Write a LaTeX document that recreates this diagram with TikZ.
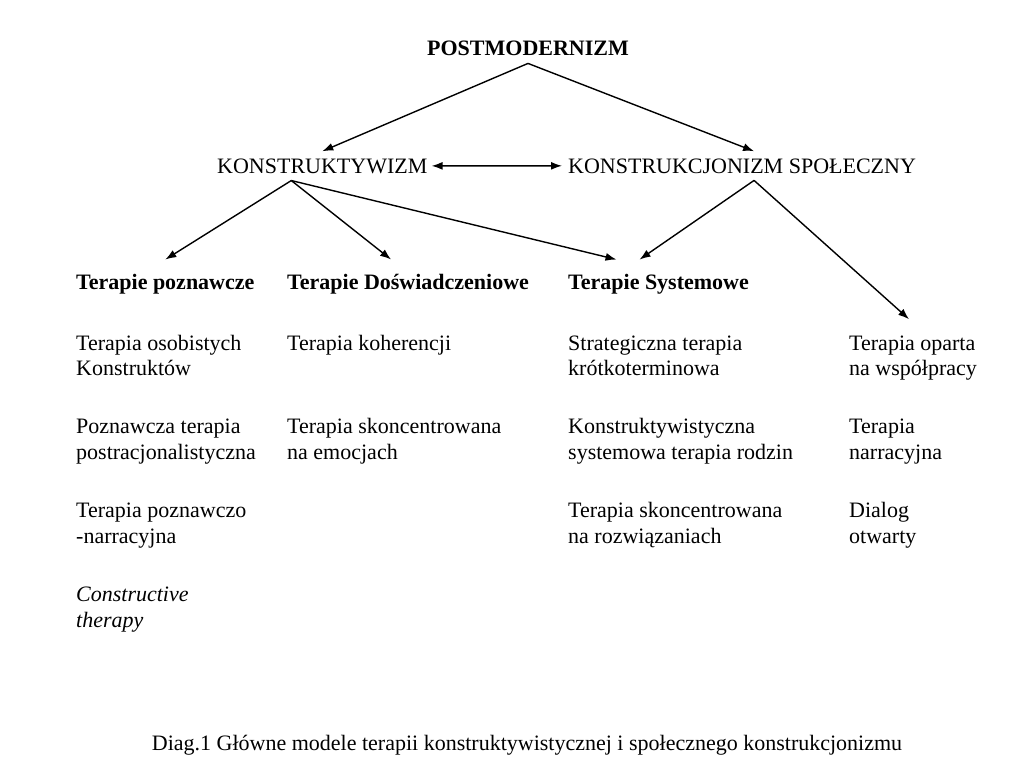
\documentclass[tikz,border=0pt]{standalone}
\usepackage{fontspec}
\setmainfont{Liberation Serif}
\usetikzlibrary{arrows.meta}

\begin{document}
\begin{tikzpicture}[x=1pt,y=-1pt,
    arr/.style={-{Latex[length=11pt,width=8pt]},line width=1.4pt},
    txt/.style={inner sep=0pt,font=\fontsize{22}{25.5}\selectfont},
    item/.style={txt,anchor=base west,align=left},
    head/.style={txt,anchor=base west,inner ysep=14pt,font=\fontsize{22}{25.5}\selectfont\bfseries}]
  \useasboundingbox (0,0) rectangle (1024,782);
  % top levels
  \node[txt,anchor=base,inner ysep=8pt,font=\fontsize{22}{25.5}\selectfont\bfseries] (pm) at (528,55) {POSTMODERNIZM};
  \node[txt,anchor=base west,inner xsep=4pt,inner ysep=7pt] (kt) at (213,173) {KONSTRUKTYWIZM};
  \node[txt,anchor=base west,inner xsep=6pt,inner ysep=7pt] (ks) at (562,173) {KONSTRUKCJONIZM SPOŁECZNY};
  \draw[arr] (pm.south) -- (kt.north);
  \draw[arr] (pm.south) -- ([xshift=12pt]ks.north);
  \draw[{Latex[length=11pt,width=8pt]}-{Latex[length=11pt,width=8pt]},line width=1.4pt] (kt.east) -- (ks.west);
  % groups
  \node[head] (tp) at (76,289) {Terapie poznawcze};
  \node[head] (td) at (287,289) {Terapie Doświadczeniowe};
  \node[head] (ts) at (568,289) {Terapie Systemowe};
  \draw[arr] ([xshift=-31pt]kt.south) -- (tp.north);
  \draw[arr] ([xshift=-31pt]kt.south) -- ([xshift=-17pt]td.north);
  \draw[arr] ([xshift=-31pt]kt.south) -- ([xshift=-42pt]ts.north);
  \draw[arr] ([xshift=12pt]ks.south) -- ([xshift=-19pt]ts.north);
  % column 1 (base = last line)
  \node[item] (p1) at (76,375.5) {Terapia osobistych\\Konstruktów};
  \node[item] (p2) at (76,459) {Poznawcza terapia\\postracjonalistyczna};
  \node[item] (p3) at (76,543) {Terapia poznawczo\\-narracyjna};
  \node[item,font=\fontsize{22}{25.5}\selectfont\itshape] (p4) at (76,627) {Constructive\\therapy};
  % column 2
  \node[item] (d1) at (287,350) {Terapia koherencji};
  \node[item] (d2) at (287,459) {Terapia skoncentrowana\\na emocjach};
  % column 3
  \node[item] (s1) at (568,375.5) {Strategiczna terapia\\krótkoterminowa};
  \node[item] (s2) at (568,459) {Konstruktywistyczna\\systemowa terapia rodzin};
  \node[item] (s3) at (568,543) {Terapia skoncentrowana\\na rozwiązaniach};
  % column 4
  \node[item] (w1) at (849,375.5) {Terapia oparta\\na współpracy};
  \node[item] (w2) at (849,459) {Terapia\\narracyjna};
  \node[item] (w3) at (849,543) {Dialog\\otwarty};
  \draw[arr] ([xshift=12pt]ks.south) -- ([shift={(-4pt,16pt)}]w1.north);
  % caption
  \node[txt,anchor=base] (cap) at (527,750) {Diag.1 Główne modele terapii konstruktywistycznej i społecznego konstrukcjonizmu};
\end{tikzpicture}
\end{document}
